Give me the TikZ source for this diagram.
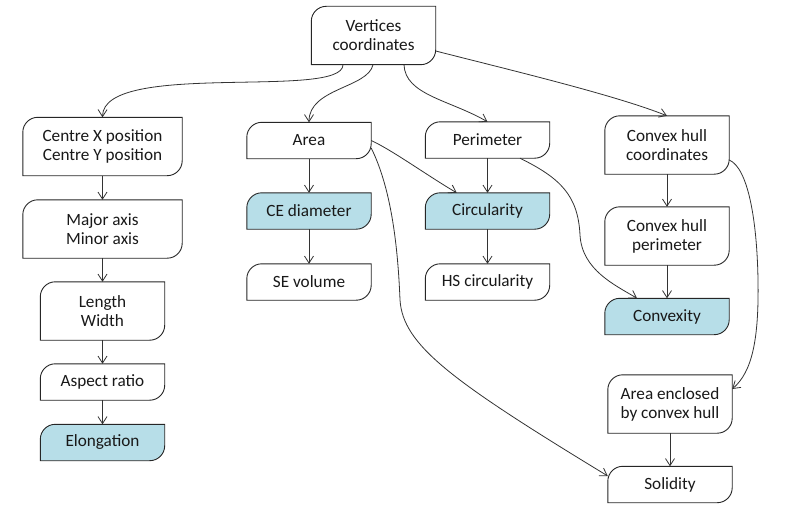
\documentclass[tikz,border=0pt]{standalone}
\usepackage{fontspec}
\setmainfont{Carlito}
\usetikzlibrary{arrows.meta,backgrounds}
\definecolor{boxblue}{RGB}{183,222,232}
\tikzset{
  box/.style={minimum width=124pt, minimum height=36pt, inner sep=0pt, align=center,
    font=\fontsize{17.2}{19}\selectfont, text=black!90},
  tall/.style={minimum height=58pt},
  wide/.style={minimum width=159pt},
  boxline/.style={draw=black!85, line width=0.9pt},
  conn/.style={draw=black!80, line width=0.8pt, -{Straight Barb[length=7pt,width=9pt]}},
}
\newcommand\boxshape[2]{%
  \draw[boxline, fill=#2] (#1.south west) -- ([yshift=-15pt]#1.north west)
    .. controls ([yshift=-6.7pt]#1.north west) and ([xshift=6.7pt]#1.north west) ..
    ([xshift=15pt]#1.north west) -- (#1.north east) -- ([yshift=15pt]#1.south east)
    .. controls ([yshift=6.7pt]#1.south east) and ([xshift=-6.7pt]#1.south east) ..
    ([xshift=-15pt]#1.south east) -- cycle;}
\begin{document}
\begin{tikzpicture}[x=1pt,y=-1pt]
\useasboundingbox (0,0) rectangle (791,516);
\node[box,tall] (v) at (373.5,35.5) {Vertices\\coordinates};
\node[box,tall,wide] (cxy) at (102.5,146.5) {Centre X position\\Centre Y position};
\node[box,tall,wide] (maj) at (102.5,229) {Major axis\\Minor axis};
\node[box,tall] (len) at (102.5,311) {Length\\Width};
\node[box] (asp) at (102.5,382) {Aspect ratio};
\node[box] (elo) at (102.5,442.5) {Elongation};
\node[box] (area) at (309,140.5) {Area};
\node[box] (ce) at (309,211) {CE diameter};
\node[box] (se) at (309,282) {SE volume};
\node[box] (per) at (487.5,140) {Perimeter};
\node[box] (circ) at (487.5,211) {Circularity};
\node[box] (hs) at (487.5,282) {HS circularity};
\node[box,tall] (chc) at (667,145) {Convex hull\\coordinates};
\node[box,tall] (chp) at (667,236) {Convex hull\\perimeter};
\node[box] (cvx) at (667,316.5) {Convexity};
\node[box,tall] (ae) at (670,404) {Area enclosed\\by convex hull};
\node[box] (sol) at (670,484.5) {Solidity};
\begin{pgfonlayer}{background}
\boxshape{v}{white}
\boxshape{cxy}{white}
\boxshape{maj}{white}
\boxshape{len}{white}
\boxshape{asp}{white}
\boxshape{elo}{boxblue}
\boxshape{area}{white}
\boxshape{ce}{boxblue}
\boxshape{se}{white}
\boxshape{per}{white}
\boxshape{circ}{boxblue}
\boxshape{hs}{white}
\boxshape{chc}{white}
\boxshape{chp}{white}
\boxshape{cvx}{boxblue}
\boxshape{ae}{white}
\boxshape{sol}{white}
\end{pgfonlayer}
% connectors
\draw[conn] ([xshift=-30.5pt]v.south) .. controls (343,100) and (103,60) .. (cxy.north);
\draw[conn] ([xshift=-0.5pt]v.south) .. controls (368,88) and (309,88) .. (area.north);
\draw[conn] ([xshift=30.5pt]v.south) .. controls (405,95) and (450,100) .. (per.north);
\draw[conn] ([yshift=-15.5pt]v.east) .. controls (510,70) and (615,95) .. (chc.north);
\draw[conn] (cxy) -- (maj);
\draw[conn] (maj) -- (len);
\draw[conn] (len) -- (asp);
\draw[conn] (asp) -- (elo);
\draw[conn] (area) -- (ce);
\draw[conn] (ce) -- (se);
\draw[conn] (per) -- (circ);
\draw[conn] (circ) -- (hs);
\draw[conn] (chc) -- (chp);
\draw[conn] (chp) -- (cvx);
\draw[conn] (ae) -- (sol);
\draw[conn] (area.east) .. controls (392,150) and (428,176) .. ([xshift=-30.8pt]circ.north);
\draw[conn] ([yshift=-7.5pt]area.east) .. controls (392,190) and (398,250) .. (400,300)
  .. controls (403,345) and (450,380) .. ([yshift=8.5pt]sol.west);
\draw[conn] ([xshift=32.5pt]per.south) .. controls (560,178) and (578,195) .. (580,235)
  .. controls (582,270) and (615,285) .. ([xshift=-30pt]cvx.north);
\draw[conn] ([yshift=-15pt]chc.east) .. controls (748,168) and (757,220) .. (758,280)
  .. controls (759,340) and (752,372) .. ([yshift=15pt]ae.east);
\end{tikzpicture}
\end{document}
